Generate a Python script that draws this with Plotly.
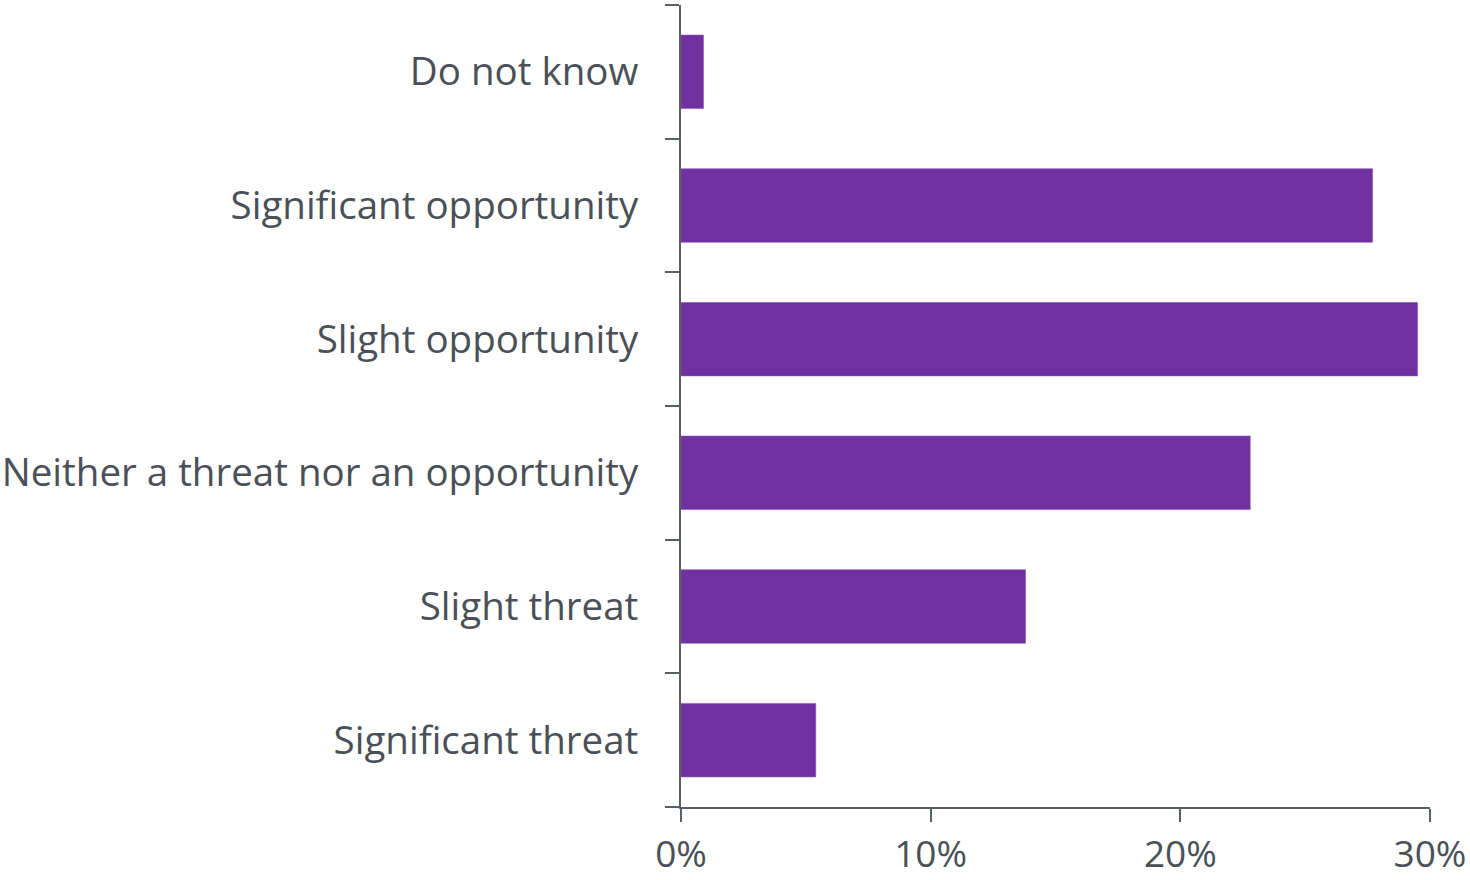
import plotly.graph_objects as go

# Survey responses, listed bottom to top as drawn
categories = [
    "Significant threat",
    "Slight threat",
    "Neither a threat nor an opportunity",
    "Slight opportunity",
    "Significant opportunity",
    "Do not know",
]
shares = [5.4, 13.8, 22.8, 29.5, 27.7, 0.9]
x_ticks = [0, 10, 20, 30]
x_tick_labels = ["0%", "10%", "20%", "30%"]

AXIS = "#5a5f67"
TEXT = "#4a5058"
PURPLE = "#7030a0"

fig = go.Figure(
    go.Bar(
        x=shares,
        y=categories,
        orientation="h",
        width=0.55,
        marker=dict(color=PURPLE, line=dict(color="#8a55b5", width=0.6)),
        hoverinfo="x+y",
    )
)

fig.update_layout(
    width=1470,
    height=880,
    margin=dict(l=681, r=40, t=5, b=73),
    paper_bgcolor="white",
    plot_bgcolor="white",
    showlegend=False,
    font=dict(family="Open Sans", color=TEXT, size=38),
)

fig.update_xaxes(
    range=[0, 30],
    tickvals=x_ticks,
    ticktext=x_tick_labels,
    showgrid=False,
    zeroline=False,
    showline=True,
    linecolor=AXIS,
    linewidth=2,
    ticks="outside",
    ticklen=13,
    tickwidth=2,
    tickcolor=AXIS,
    tickfont=dict(size=37, color=TEXT),
    ticklabelstandoff=1,
    automargin=False,
)

fig.update_yaxes(
    type="category",
    categoryorder="array",
    categoryarray=categories,
    range=[-0.5, 5.5],
    tickson="boundaries",
    showgrid=False,
    zeroline=False,
    showline=True,
    linecolor=AXIS,
    linewidth=2,
    ticks="outside",
    ticklen=14,
    tickwidth=2,
    tickcolor=AXIS,
    tickfont=dict(size=38.5, color=TEXT),
    ticklabelstandoff=33,
    automargin=False,
)

fig.write_html("out.html")
